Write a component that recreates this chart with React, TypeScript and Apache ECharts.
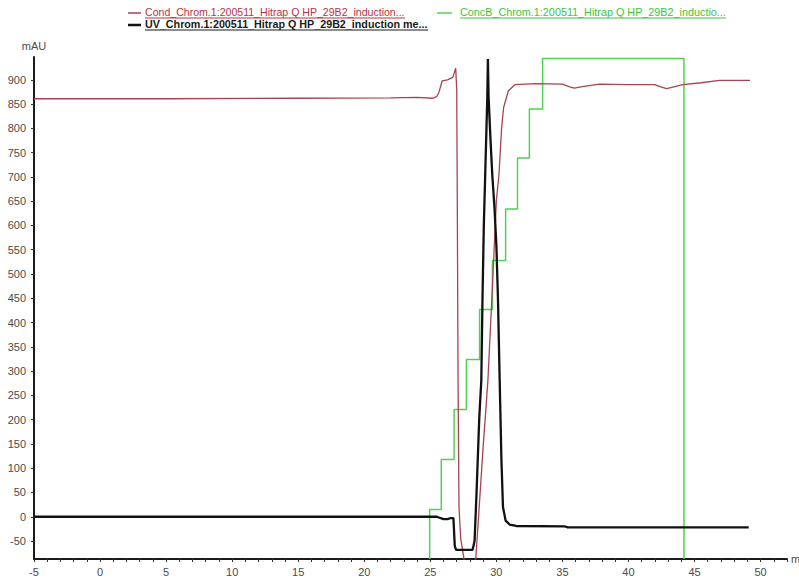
import React, { useEffect, useRef } from "react";
import * as echarts from "echarts";

// ---- data (time in min, value in mAU) ----
const uvPoints: [number, number][] = [
  [-5, 0], [10, 0], [20, 0], [25.5, 0], [25.7, -2], [26.0, -5], [26.3, -5], [26.5, -3],
  [26.75, -3], [26.85, -60], [26.95, -68], [28.2, -68], [28.35, -50], [28.5, 50],
  [28.7, 200], [28.86, 281], [28.95, 450], [29.05, 600], [29.15, 700], [29.25, 800],
  [29.31, 860], [29.36, 943], [29.41, 865], [29.55, 780], [29.7, 700], [29.85, 640],
  [30.0, 560], [30.12, 450], [30.25, 281], [30.38, 120], [30.5, 20], [30.7, -8],
  [31.0, -16], [31.5, -19], [35.2, -20], [35.4, -22], [49.1, -22],
];

const condPoints: [number, number][] = [
  [-5, 861], [5, 861], [15, 862], [22, 863], [24, 864], [25.2, 862], [25.5, 866],
  [25.65, 874], [25.9, 898], [26.3, 900], [26.7, 905], [26.85, 918], [26.92, 924],
  [27.0, 880], [27.05, 600], [27.1, 281], [27.17, 20], [27.3, -45], [27.6, -95],
  [28.0, -110], [28.44, -87], [28.7, 20], [29.0, 144], [29.36, 281], [29.7, 473],
  [30.0, 651], [30.2, 706], [30.4, 802], [30.55, 843], [30.9, 877], [31.4, 890],
  [33.0, 892], [35.0, 891], [35.5, 886], [35.9, 883], [36.5, 886], [37.8, 891],
  [40.0, 890], [42.0, 890], [42.5, 885], [42.9, 882], [43.5, 886], [44.1, 890],
  [45.5, 894], [46.9, 899], [49.2, 899],
];

// step changes of ConcB (drawn as a step line, scaled onto the mAU axis)
const concBPoints: [number, number][] = [
  [24.95, -87], [24.95, 15], [25.83, 118], [26.8, 221], [27.73, 324], [28.73, 427],
  [29.7, 528], [30.7, 634], [31.6, 739], [32.5, 840], [33.5, 944], [44.2, -87],
];

const xLabelValues = [-5, 0, 5, 10, 15, 20, 25, 30, 35, 40, 45, 50];
const xTickValues = Array.from({ length: 58 }, (_, i) => i - 5);
const yLabelValues = [-50, 0, 50, 100, 150, 200, 250, 300, 350, 400, 450, 500, 550, 600, 650, 700, 750, 800, 850, 900];

const seriesNames = [
  "Cond_Chrom.1:200511_Hitrap Q HP_29B2_induction...",
  "ConcB_Chrom.1:200511_Hitrap Q HP_29B2_inductio...",
  "UV_Chrom.1:200511_Hitrap Q HP_29B2_induction me...",
];
const COND_COLOR = "#a8434f";
const CONCB_COLOR = "#4fd24f";
const UV_COLOR = "#111111";

function measure(text: string, font: string): number {
  const c = document.createElement("canvas").getContext("2d");
  if (!c) return text.length * 5;
  c.font = font;
  return c.measureText(text).width;
}

function legendItem(name: string, color: string, textColor: string, bold: boolean,
  iconX: number, iconW: number, textX: number, textW: number, y: number) {
  const font = `${bold ? "bold " : ""}10px "Liberation Sans"`;
  const w = measure(name, font);
  const sx = textW / w;
  return [
    { type: "line", shape: { x1: iconX, y1: y, x2: iconX + iconW, y2: y }, style: { stroke: color, lineWidth: bold ? 2.5 : 1.5 } },
    {
      type: "text", x: textX, y: y, scaleX: sx, originX: 0,
      style: { text: name, font, fill: textColor, textVerticalAlign: "middle", textAlign: "left" },
    },
    { type: "line", shape: { x1: textX, y1: y + 5, x2: textX + textW, y2: y + 5 }, style: { stroke: textColor, lineWidth: 1 } },
  ];
}

export default function App() {
  const ref = useRef<HTMLDivElement>(null);
  useEffect(() => {
    if (!ref.current) return;
    const chart = echarts.init(ref.current, undefined, { renderer: "svg" });
    const labelStyle = { color: "#4a4a4a", fontSize: 11, fontFamily: "Liberation Sans" };
    chart.setOption({
      animation: false,
      backgroundColor: "#ffffff",
      grid: { left: 34, right: 12, top: 57, bottom: 21, containLabel: false, outerBoundsMode: "none" },
      xAxis: {
        type: "value", min: -5, max: 52,
        name: "min", nameLocation: "end", nameGap: 4,
        nameTextStyle: { ...labelStyle, verticalAlign: "middle", align: "left" },
        axisLine: { show: true, onZero: false, lineStyle: { color: "#1a1a1a", width: 2 } },
        axisTick: { show: true, customValues: xTickValues, length: 3, lineStyle: { color: "#333" } },
        axisLabel: { ...labelStyle, customValues: xLabelValues, margin: 7 },
        splitLine: { show: false },
      },
      yAxis: {
        type: "value", min: -87, max: 947,
        name: "mAU", nameLocation: "end", nameGap: 6,
        nameTextStyle: { ...labelStyle, align: "center" },
        axisLine: { show: true, onZero: false, lineStyle: { color: "#1a1a1a", width: 2 } },
        axisTick: { show: true, customValues: yLabelValues, length: 3, lineStyle: { color: "#333" } },
        axisLabel: { ...labelStyle, customValues: yLabelValues, margin: 8 },
        splitLine: { show: false },
      },
      graphic: [
        ...legendItem(seriesNames[0], COND_COLOR, "#b8323f", false, 128, 13, 145, 260, 13),
        ...legendItem(seriesNames[1], CONCB_COLOR, "#3cc43c", false, 437, 15, 460, 266, 13),
        ...legendItem(seriesNames[2], UV_COLOR, "#1a1a1a", true, 128, 13, 145, 283, 25),
      ],
      series: [
        {
          name: seriesNames[1], type: "line", data: concBPoints, step: "end", showSymbol: false,
          lineStyle: { color: CONCB_COLOR, width: 1.5 }, clip: true, z: 2,
        },
        {
          name: seriesNames[0], type: "line", data: condPoints, showSymbol: false,
          lineStyle: { color: COND_COLOR, width: 1.3 }, clip: true, z: 3,
        },
        {
          name: seriesNames[2], type: "line", data: uvPoints, showSymbol: false,
          lineStyle: { color: UV_COLOR, width: 2.3 }, clip: true, z: 4,
        },
      ],
    });
    return () => chart.dispose();
  }, []);
  return (
    <div
      ref={ref}
      style={{ position: "fixed", left: 0, top: 0, width: 799, height: 580, background: "#fff" }}
    />
  );
}
